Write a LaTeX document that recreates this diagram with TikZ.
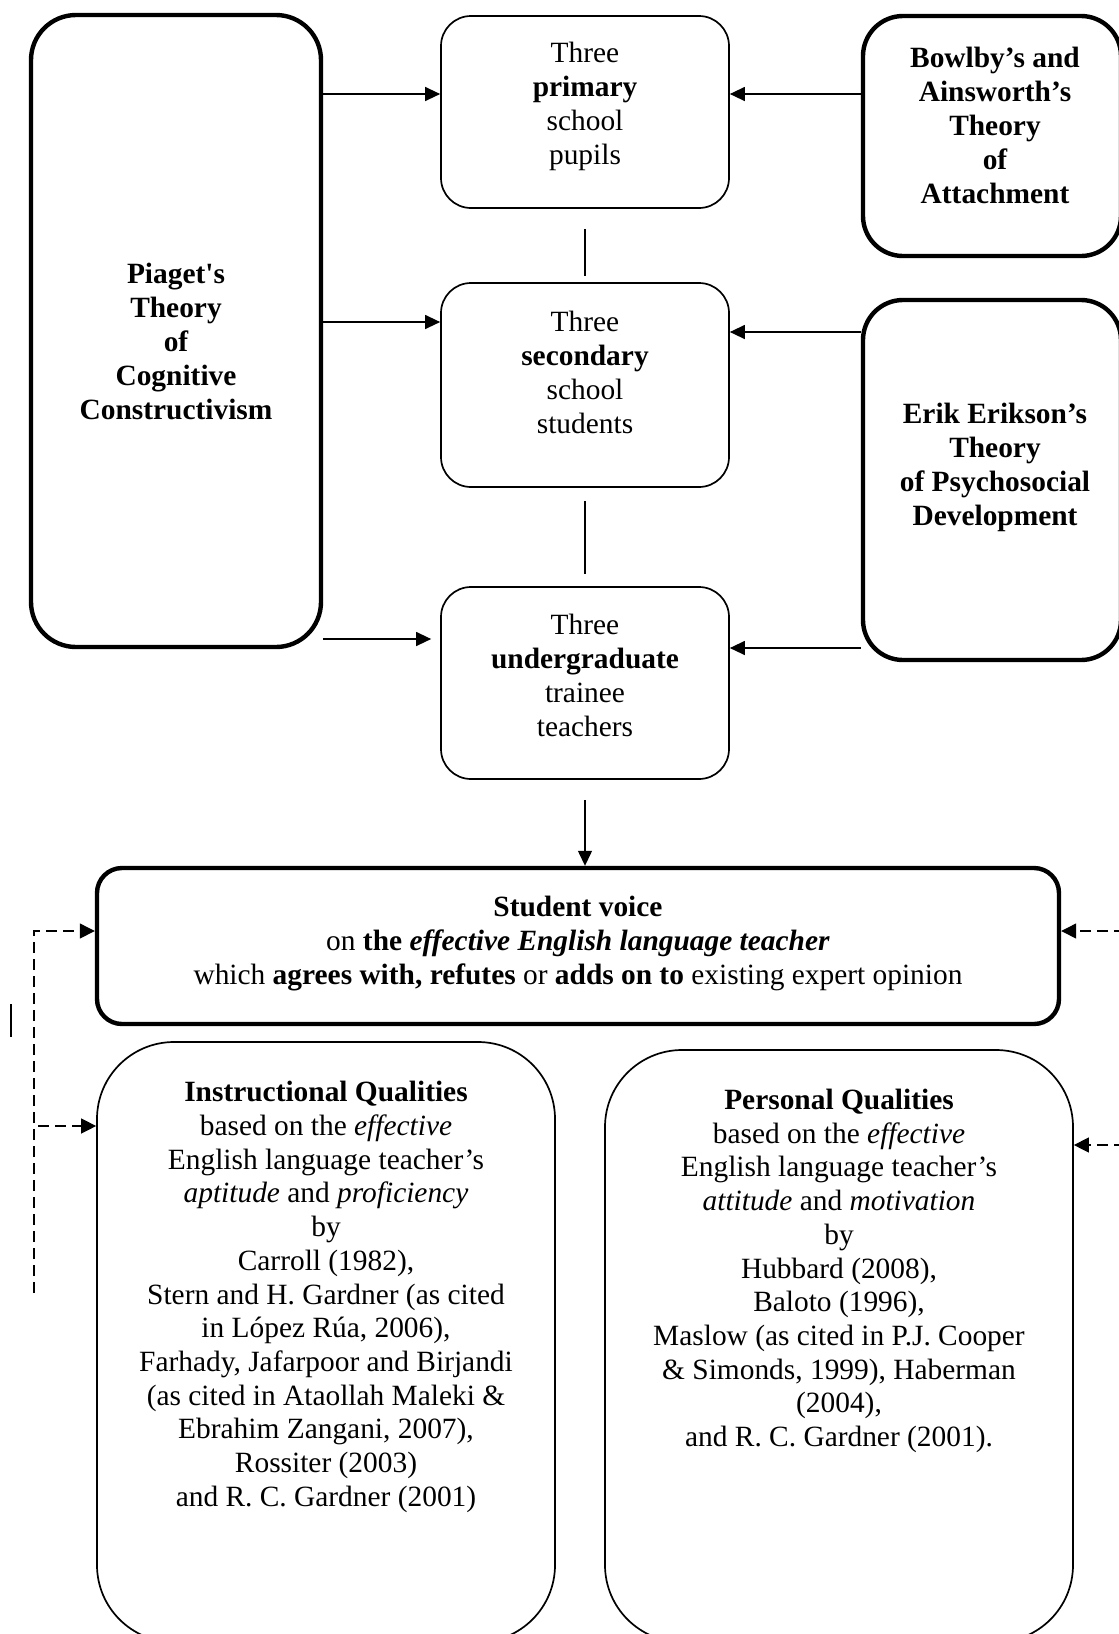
\documentclass[tikz,border=0pt]{standalone}
\usepackage{fontspec}
\setmainfont{Liberation Serif}
\usetikzlibrary{arrows.meta}
\begin{document}
\begin{tikzpicture}[x=0.5pt,y=-0.5pt,
  txt/.style={font=\fontsize{14.7}{17}\selectfont, align=center, inner sep=0pt},
  ltxt/.style={font=\fontsize{14.7}{16.85}\selectfont, align=center, inner sep=0pt},
  btxt/.style={font=\fontsize{14.7}{17}\selectfont\bfseries, align=center, inner sep=0pt},
  thickbox/.style={draw, line width=2.2pt, inner sep=0pt},
  thinbox/.style={draw, line width=0.85pt, inner sep=0pt},
  conn/.style={line width=0.65pt},
  arr/.style={line width=0.65pt, -{Triangle[length=7.5pt,width=7pt]}},
  dsh/.style={line width=0.65pt, dash pattern=on 5.5pt off 3pt, -{Triangle[length=7.5pt,width=7.5pt]}}
]
\useasboundingbox (0,0) rectangle (1119,1634);
\clip (0,0) rectangle (1119,1634);

% boxes
\node[thickbox, minimum width=145pt, minimum height=316pt, rounded corners=22.5pt] (piaget) at (176,331) {};
\node[btxt] (piagetT) at (176,341) {Piaget\textquotesingle s\\Theory\\of\\Cognitive\\Constructivism};

\node[thinbox, minimum width=144pt, minimum height=96pt, rounded corners=15pt] (prim) at (585,112) {};
\node[txt] (primT) at (585,106) {Three\\\textbf{primary}\\school\\pupils};

\node[thinbox, minimum width=144pt, minimum height=102pt, rounded corners=15pt] (sec) at (585,385) {};
\node[txt] (secT) at (585,372) {Three\\\textbf{secondary}\\school\\students};

\node[thinbox, minimum width=144pt, minimum height=96pt, rounded corners=15pt] (und) at (585,683) {};
\node[txt] (undT) at (585,675) {Three\\\textbf{undergraduate}\\trainee\\teachers};

\node[thickbox, minimum width=129pt, minimum height=120pt, rounded corners=20pt] (bowlby) at (992,136) {};
\node[btxt] (bowlbyT) at (995,125) {Bowlby’s and\\Ainsworth’s\\Theory\\of\\Attachment};

\node[thickbox, minimum width=129pt, minimum height=180pt, rounded corners=20pt] (erik) at (992,480) {};
\node[btxt] (erikT) at (995,467) {Erik Erikson’s\\Theory\\of Psychosocial\\Development};

\node[thickbox, minimum width=481pt, minimum height=78pt, rounded corners=12.5pt] (sv) at (578,946) {};
\node[txt] (svT) at (578,944) {\textbf{Student voice}\\on \textbf{the} \textbf{\textit{effective English language teacher}}\\which \textbf{agrees with, refutes} or \textbf{adds on to} existing expert opinion};

\node[thinbox, minimum width=229pt, minimum height=300pt, rounded corners=38.5pt] (instr) at (326,1342) {};
\node[ltxt] (instrT) at (326,1297) {\textbf{Instructional Qualities}\\based on the \textit{effective}\\English language teacher’s\\\textit{aptitude} and \textit{proficiency}\\by\\Carroll (1982),\\Stern and H. Gardner (as cited\\in López Rúa, 2006),\\Farhady, Jafarpoor and Birjandi\\(as cited in Ataollah Maleki \&\\Ebrahim Zangani, 2007),\\Rossiter (2003)\\and R. C. Gardner (2001)};

\node[thinbox, minimum width=234pt, minimum height=296pt, rounded corners=38.5pt] (pers) at (839,1346) {};
\node[ltxt] (persT) at (839,1271) {\textbf{Personal Qualities}\\based on the \textit{effective}\\English language teacher’s\\\textit{attitude} and \textit{motivation}\\by\\Hubbard (2008),\\Baloto (1996),\\Maslow (as cited in P.J. Cooper\\\& Simonds, 1999), Haberman\\(2004),\\and R. C. Gardner (2001).};

% levels
\coordinate (a1) at (0,94);
\coordinate (a2) at (0,322);
\coordinate (a3) at (0,639);
\coordinate (b2) at (0,332);
\coordinate (b3) at (0,648);

\draw[arr] (piaget.east |- a1) -- (prim.west |- a1);
\draw[arr] (piaget.east |- a2) -- (sec.west |- a2);
\draw[arr] (piaget.east |- a3) -- ([xshift=-4.5pt]und.west |- a3);
\draw[arr] (bowlby.west |- a1) -- (prim.east |- a1);
\draw[arr] (erik.west |- b2) -- (sec.east |- b2);
\draw[arr] (erik.west |- b3) -- (und.east |- b3);

\draw[conn] ([yshift=-10pt]prim.south) -- ([yshift=3pt]sec.north);
\draw[conn] ([yshift=-6.5pt]sec.south) -- ([yshift=6pt]und.north);
\draw[arr] ([yshift=-10pt]und.south) -- (sv.north -| und.south);

% dashed feedback
\coordinate (dl1) at (34,931);
\coordinate (dl2) at (34,1293);
\coordinate (dl3) at (38,1126);
\coordinate (dr1) at (1125,931);
\coordinate (dr2) at (1125,1145);
\draw[dsh] (dl2) -- (dl1) -- (sv.west |- dl1);
\draw[dsh] (dl3) -- (instr.west |- dl3);
\draw[dsh] (dr1) -- (sv.east |- dr1);
\draw[dsh] (dr2) -- (pers.east |- dr2);

\coordinate (t1) at (11,1004);
\coordinate (t2) at (11,1037);
\draw[conn] (t1) -- (t2);
\end{tikzpicture}
\end{document}
